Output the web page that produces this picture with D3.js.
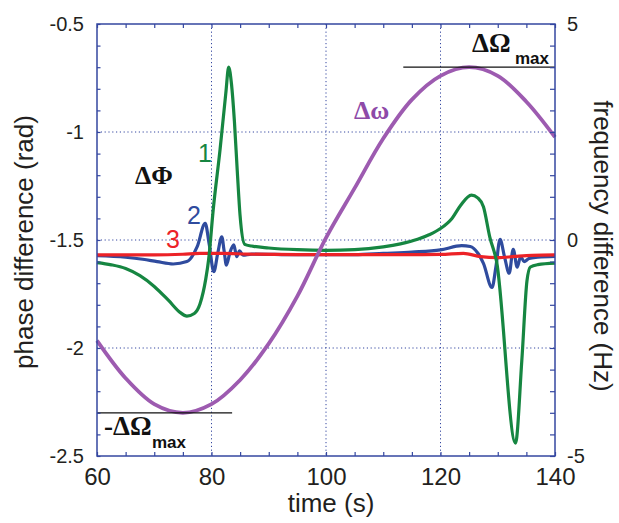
<!DOCTYPE html>
<html>
<head>
<meta charset="utf-8">
<script src="https://cdn.jsdelivr.net/npm/d3@7"></script>
<style>
  body { margin: 0; background: #fff; }
  svg { display: block; font-family: "Liberation Sans", Arial, sans-serif; }
</style>
</head>
<body>
<svg width="619" height="523"></svg>
<script>
// tick labels
const timeTicks = [60, 80, 100, 120, 140];
const phaseTicks = [-2.5, -2, -1.5, -1, -0.5];
const freqTicks = [-5, 0, 5];
const timeGrid = [80, 100, 120];
const phaseGrid = [-2, -1.5, -1];

// trace 1 (green), phase difference in rad
const trace1Time = [60, 62.5, 65, 67.5, 70, 72.5, 74.5, 75.7, 77, 78, 79, 79.5, 80.3, 81.5, 82.5, 83, 83.5, 84, 84.5, 85, 85.8, 87,
  90, 95, 100, 105, 110, 113, 116, 118, 120, 122, 123.5, 125.4, 126.5, 127.5, 128.6, 129.8, 133.1, 134.2, 135.1, 135.7, 137, 140];
const trace1Phase = [-1.605, -1.615, -1.632, -1.665, -1.715, -1.78, -1.835, -1.852, -1.84, -1.795, -1.68, -1.59, -1.36, -1.08, -0.82, -0.70, -0.78, -0.95, -1.18, -1.39, -1.52, -1.528,
  -1.537, -1.545, -1.548, -1.545, -1.532, -1.518, -1.497, -1.476, -1.447, -1.40, -1.34, -1.292, -1.305, -1.346, -1.485, -1.60, -2.44, -2.06, -1.69, -1.625, -1.614, -1.607];

// trace 2 (blue)
const trace2Time = [60, 65, 68, 70.5, 73.3, 75.7, 77.5, 78.9, 79.6, 80.4, 81.1, 81.8, 82.2, 82.6, 83.2, 83.9, 84.4, 84.9, 85.5, 87,
  95, 105, 110, 115, 120, 123.7, 125.2, 126.5, 127.5, 129.0, 129.7, 130.4, 131.2, 132.0, 132.7, 133.4, 134.0, 134.6, 135.5, 137, 140];
const trace2Phase = [-1.573, -1.58, -1.589, -1.6, -1.611, -1.6, -1.531, -1.423, -1.52, -1.647, -1.56, -1.485, -1.55, -1.616, -1.56, -1.523, -1.577, -1.55, -1.57, -1.565,
  -1.568, -1.568, -1.562, -1.556, -1.546, -1.526, -1.53, -1.56, -1.608, -1.72, -1.62, -1.497, -1.58, -1.654, -1.543, -1.626, -1.577, -1.60, -1.585, -1.58, -1.576];

// trace 3 (red)
const trace3Time = [60, 70, 75, 78, 82, 86, 95, 110, 120, 124, 127, 130, 133, 136, 140];
const trace3Phase = [-1.569, -1.569, -1.566, -1.562, -1.562, -1.565, -1.568, -1.568, -1.567, -1.562, -1.577, -1.582, -1.576, -1.571, -1.569];

// frequency difference (purple), Hz
const dOmegaTime = [60, 65, 70, 75, 80, 85, 90, 95, 100, 105, 110, 115, 120, 125, 130, 135, 140];
const dOmegaHz = [-2.33, -3.2, -3.8, -4.0, -3.8, -3.24, -2.4, -1.3, 0.05, 1.2, 2.35, 3.25, 3.8, 4.0, 3.8, 3.2, 2.38];

// +/- max markers
const maxLineTime = [113.5, 140];
const minLineTime = [60, 83.6];
const omegaMax = 4;

const margin = { top: 24, right: 64, bottom: 67, left: 97 };
const width = 619 - margin.left - margin.right;
const height = 523 - margin.top - margin.bottom;
const frameColor = '#3447a0';

const svg = d3.select('svg');
const g = svg.append('g').attr('transform', `translate(${margin.left},${margin.top})`);

const x = d3.scaleLinear().domain([60, 140]).range([0, width]);
const yPhase = d3.scaleLinear().domain([-2.5, -0.5]).range([height, 0]);
const yFreq = d3.scaleLinear().domain([-5, 5]).range([height, 0]);

// dotted grid
g.append('g').selectAll('line.vg')
  .data(timeGrid)
  .join('line')
  .attr('x1', d => x(d)).attr('x2', d => x(d))
  .attr('y1', 0).attr('y2', height)
  .attr('stroke', frameColor).attr('stroke-width', 1).attr('stroke-dasharray', '1.2,2.6');
g.append('g').selectAll('line.hg')
  .data(phaseGrid)
  .join('line')
  .attr('y1', d => yPhase(d)).attr('y2', d => yPhase(d))
  .attr('x1', 0).attr('x2', width)
  .attr('stroke', frameColor).attr('stroke-width', 1).attr('stroke-dasharray', '1.2,2.6');

// curves
const phaseLine = (ts, vs) => d3.line()
  .x((d, i) => x(ts[i]))
  .y(d => yPhase(d))
  .curve(d3.curveMonotoneX)(vs);

const curves = [
  { t: trace2Time, v: trace2Phase, color: '#2f4b9e' },
  { t: trace3Time, v: trace3Phase, color: '#ec2227' },
  { t: trace1Time, v: trace1Phase, color: '#168641' },
];
for (const c of curves) {
  g.append('path')
    .attr('d', phaseLine(c.t, c.v))
    .attr('fill', 'none')
    .attr('stroke', c.color)
    .attr('stroke-width', 3.2)
    .attr('stroke-linejoin', 'round');
}

g.append('path')
  .attr('d', d3.line()
    .x((d, i) => x(dOmegaTime[i]))
    .y(d => yFreq(d))
    .curve(d3.curveCatmullRom)(dOmegaHz))
  .attr('fill', 'none')
  .attr('stroke', '#9d5bb0')
  .attr('stroke-width', 3.8);

// max / min markers
g.append('line')
  .attr('x1', x(maxLineTime[0])).attr('x2', x(maxLineTime[1]))
  .attr('y1', yFreq(omegaMax)).attr('y2', yFreq(omegaMax))
  .attr('stroke', '#111').attr('stroke-width', 1.2);
g.append('line')
  .attr('x1', x(minLineTime[0])).attr('x2', x(minLineTime[1]))
  .attr('y1', yFreq(-omegaMax)).attr('y2', yFreq(-omegaMax))
  .attr('stroke', '#111').attr('stroke-width', 1.2);

// axes with inward ticks
const styleAxis = sel => {
  sel.select('.domain').remove();
  sel.selectAll('.tick line').attr('stroke', frameColor).attr('stroke-width', 1.2);
  sel.selectAll('.tick text').attr('fill', '#231f20').attr('font-family', '"Liberation Sans", Arial, sans-serif');
};

const minorTime = d3.range(60, 141, 5);
const minorPhase = d3.range(-25, -4).map(d => d / 10);
const minorFreq = d3.range(-10, 11).map(d => d / 2);
const isMajor = (list, d) => list.some(p => Math.abs(p - d) < 1e-9);

g.append('g')
  .attr('transform', `translate(0,${height})`)
  .call(d3.axisBottom(x).tickValues(minorTime).tickSize(-4).tickPadding(12)
    .tickFormat(d => isMajor(timeTicks, d) ? String(d) : ''))
  .call(styleAxis)
  .selectAll('.tick text').attr('font-size', 24);

g.append('g')
  .call(d3.axisTop(x).tickValues(minorTime).tickSize(-4).tickFormat(''))
  .call(styleAxis);

g.append('g')
  .call(d3.axisLeft(yPhase).tickValues(minorPhase).tickSize(-3.5).tickPadding(13)
    .tickFormat(d => isMajor(phaseTicks, d) ? String(d) : ''))
  .call(styleAxis)
  .selectAll('.tick text').attr('font-size', 20);

g.append('g')
  .attr('transform', `translate(${width},0)`)
  .call(d3.axisRight(yFreq).tickValues(minorFreq).tickSize(-5).tickPadding(12)
    .tickFormat(d => isMajor(freqTicks, d) ? String(d) : ''))
  .call(styleAxis)
  .selectAll('.tick text').attr('font-size', 20);

// frame
g.append('rect')
  .attr('width', width).attr('height', height)
  .attr('fill', 'none')
  .attr('stroke', frameColor).attr('stroke-width', 1.5);

// axis titles
svg.append('text')
  .attr('x', margin.left + width / 2 + 5).attr('y', 512)
  .attr('text-anchor', 'middle')
  .attr('font-size', 26).attr('fill', '#231f20')
  .text('time (s)');
svg.append('text')
  .attr('transform', 'translate(33,242) rotate(-90)')
  .attr('text-anchor', 'middle')
  .attr('font-size', 26).attr('fill', '#231f20')
  .text('phase difference (rad)');
svg.append('text')
  .attr('transform', 'translate(594,246) rotate(90)')
  .attr('text-anchor', 'middle')
  .attr('font-size', 26).attr('fill', '#231f20')
  .text('frequency difference (Hz)');

// curve annotations
const serif = '"Liberation Serif", "Times New Roman", serif';
const note = (px, py, txt, color, size, family, weight) => svg.append('text')
  .attr('x', px).attr('y', py)
  .attr('fill', color).attr('font-size', size)
  .attr('font-family', family || null)
  .attr('font-weight', weight || null)
  .text(txt);

note(198, 162, '1', '#168641', 25);
note(187, 224, '2', '#2f4b9e', 25);
note(166, 248, '3', '#ec2227', 25);
note(135, 184, 'ΔΦ', '#111', 26, serif, 'bold');
note(354, 119, 'Δω', '#8e4aa8', 26, serif, 'bold');
note(472, 52, 'ΔΩ', '#111', 27, serif, 'bold');
note(515, 64, 'max', '#111', 17, null, 'bold');
note(104, 435, '-ΔΩ', '#111', 27, serif, 'bold');
note(152, 448, 'max', '#111', 17, null, 'bold');
</script>
</body>
</html>
